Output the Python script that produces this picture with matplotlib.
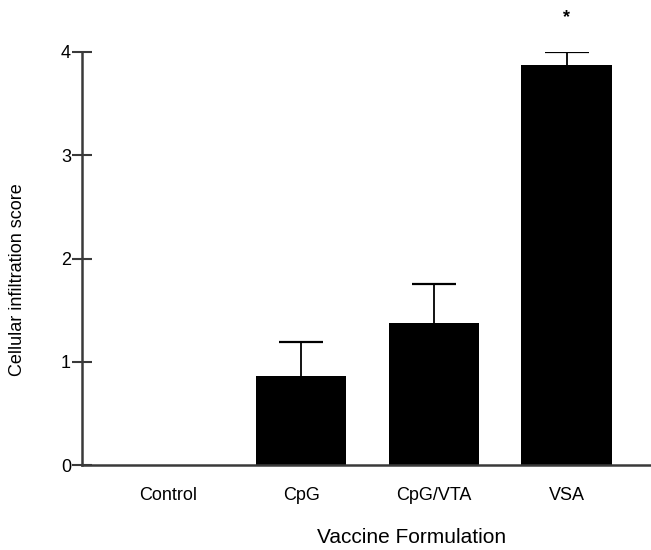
import matplotlib
matplotlib.use("Agg")
import matplotlib.pyplot as plt

plt.rcParams['font.family'] = ['Liberation Sans', 'DejaVu Sans']

# data
categories = ["Control", "CpG", "CpG/VTA", "VSA"]
scores = [0.0, 0.86, 1.375, 3.87]
sem = [0.0, 0.33, 0.375, 0.13]
significant = [False, False, False, True]

fig = plt.figure(figsize=(6.51, 5.5), dpi=100)
ax = fig.add_axes([0.126, 0.1545, 0.874, 0.751])

x = list(range(len(categories)))
ax.bar(x, scores, width=0.68, color="black", edgecolor="black", linewidth=0, zorder=3)

# symmetric error bars drawn under the bars, so only the upper half shows
ax.errorbar(x[1:], scores[1:], yerr=sem[1:], fmt="none", ecolor="black",
            elinewidth=1.3, capsize=16, capthick=1.6, zorder=2)

for xi, s, e, sig in zip(x, scores, sem, significant):
    if sig:
        ax.text(xi, s + e + 0.33, "*", ha="center", va="center", fontsize=13,
                fontweight="bold", clip_on=False)

ax.set_xlim(-0.652, 3.636)
ax.set_ylim(0, 4)
ax.set_yticks([0, 1, 2, 3, 4])
ax.set_xticks(x)
ax.set_xticklabels(categories)

for side in ["top", "right"]:
    ax.spines[side].set_visible(False)
for side in ["left", "bottom"]:
    ax.spines[side].set_linewidth(1.8)
    ax.spines[side].set_color("#3a3a3a")
    ax.spines[side].set_zorder(4)

ax.tick_params(axis="y", direction="inout", length=14, width=1.5, color="#3a3a3a",
               labelsize=13, pad=1)
ax.tick_params(axis="x", length=0, labelsize=13, pad=16)

ax.set_ylabel("Cellular infiltration score", fontsize=13)
ax.yaxis.set_label_coords(-0.098, 0.45)
ax.set_xlabel("Vaccine Formulation", fontsize=15)
ax.xaxis.set_label_coords(0.58, -0.153)

fig.savefig("out.png", dpi=100)
